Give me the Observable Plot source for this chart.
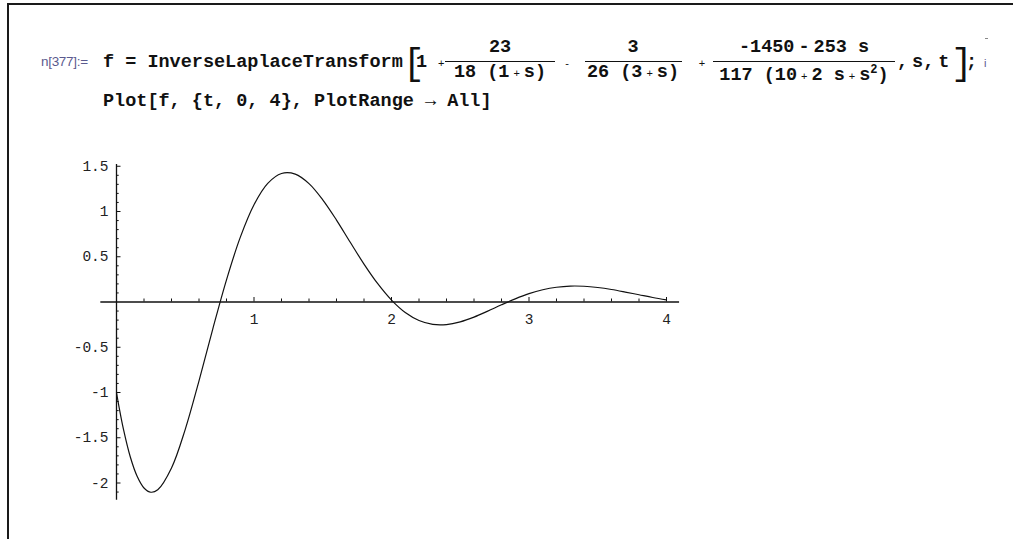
<!DOCTYPE html>
<html>
<head>
<meta charset="utf-8">
<script src="https://cdn.jsdelivr.net/npm/d3@7"></script>
<script src="https://cdn.jsdelivr.net/npm/@observablehq/plot@0.6"></script>
<style>
html, body { margin: 0; padding: 0; background: #fff; }
#page { position: relative; width: 1013px; height: 539px; overflow: hidden; background: #fff; }
#frame { position: absolute; left: 7px; top: 3px; width: 1100px; height: 600px; border-top: 2px solid #1a1a1a; border-left: 2px solid #1a1a1a; }
.t { position: absolute; white-space: pre; line-height: 1; color: #111; }
.mono { font-family: "Liberation Mono", "Courier New", monospace; font-weight: bold; font-size: 18.5px; }
.op { font-family: "Liberation Sans", Arial, sans-serif; font-weight: normal; font-size: 11px; }
.sp { display: inline-block; width: 4px; }
.lbl { font-family: "Liberation Sans", Arial, sans-serif; font-size: 13.5px; color: #5a5a8e; letter-spacing: -0.3px; }
.lbl2 { font-family: "Liberation Sans", Arial, sans-serif; font-size: 11px; color: #5a5a8e; }
.br { font-family: "Liberation Mono", "Courier New", monospace; font-weight: normal; font-size: 36px; letter-spacing: -12px; }
.bar { position: absolute; height: 0; border-top: 1.3px solid #111; }
#chart { position: absolute; left: 0; top: 140px; }
</style>
</head>
<body>
<div id="page">
  <div id="frame"></div>
  <div id="chart"></div>
</div>
<script>
// ---- data ----
const tValues = [0, 0.02, 0.05, 0.1, 0.15, 0.2, 0.25, 0.3, 0.4, 0.5, 0.6, 0.7, 0.8, 0.9, 1.0,
  1.1, 1.2, 1.3, 1.4, 1.5, 1.6, 1.7, 1.8, 1.9, 2.0, 2.1, 2.2, 2.3, 2.4, 2.5, 2.6, 2.7, 2.8, 2.9,
  3.0, 3.1, 3.2, 3.3, 3.4, 3.5, 3.6, 3.7, 3.8, 3.9, 4.0];
const fValues = [-1.000, -1.172, -1.402, -1.710, -1.926, -2.055, -2.102, -2.075, -1.834, -1.407,
  -0.871, -0.299, 0.245, 0.714, 1.075, 1.311, 1.420, 1.413, 1.308, 1.129, 0.905, 0.660, 0.419,
  0.202, 0.021, -0.116, -0.204, -0.247, -0.249, -0.219, -0.167, -0.101, -0.031, 0.035, 0.092,
  0.135, 0.163, 0.176, 0.174, 0.160, 0.138, 0.110, 0.080, 0.050, 0.024];
const xTickValues = [1, 2, 3, 4];
const xTickLabels = ["1", "2", "3", "4"];
const yTickValues = [-2, -1.5, -1, -0.5, 0.5, 1, 1.5];
const yTickLabels = ["-2", "-1.5", "-1", "-0.5", "0.5", "1", "1.5"];
const xAxisExtent = [-0.114, 4.095];
const yAxisExtent = [-2.19, 1.52];
const inLabel = "n[377]:=";
const codeLine2 = "Plot[f, {t, 0, 4}, PlotRange \u2192 All]";

// ---- header (Mathematica input cell) ----
const page = document.getElementById("page");
function put(html, x, base, cls, align) {
  const d = document.createElement("div");
  d.className = "t " + cls;
  d.innerHTML = html;
  page.appendChild(d);
  const fs = parseFloat(getComputedStyle(d).fontSize);
  const off = (cls.includes("lbl") || cls.includes("op")) ? 0.85 : 0.767;
  d.style.top = (base - off * fs) + "px";
  d.style.left = x + "px";
  if (align === "center") d.style.transform = "translateX(-50%)";
  return d;
}
function bar(x1, x2, y) {
  const d = document.createElement("div");
  d.className = "bar";
  d.style.left = x1 + "px"; d.style.width = (x2 - x1) + "px"; d.style.top = y + "px";
  page.appendChild(d);
}
const plus = '<span class="sp"></span><span class="op">+</span><span class="sp"></span>';
const minus = '<span class="sp"></span>-<span class="sp"></span>';

put(inLabel, 41, 66, "lbl");
put("f = InverseLaplaceTransform", 103, 68, "mono");
put("[", 403, 75, "br");
put("1", 416, 68, "mono");
put("+", 438, 67, "op");
// fraction 1
put("23", 500, 53, "mono", "center");
bar(445, 555, 61);
put("18 (1" + plus + "s)", 500, 78, "mono", "center");
put("-", 567, 67, "op", "center");
// fraction 2
put("3", 633, 53, "mono", "center");
bar(585, 682, 61);
put("26 (3" + plus + "s)", 633, 78, "mono", "center");
put("+", 702, 67, "op", "center");
// fraction 3
put("-1450" + minus + "253 s", 804, 53, "mono", "center");
bar(713, 895, 61);
put("117 (10" + plus + "2 s" + plus + "s<sup style='font-size:12px;vertical-align:7px'>2</sup>)", 804, 78, "mono", "center");
put(",<span class='sp'></span>s,<span class='sp'></span>t", 897, 68, "mono");
put("]", 951, 75, "br");
put(";", 966, 68, "mono");
put("i", 984, 67, "lbl2");
const dash = document.createElement("div");
dash.style.cssText = "position:absolute;left:985px;top:38px;width:3px;height:1px;background:#888;";
page.appendChild(dash);
put(codeLine2, 103, 107, "mono");

// ---- chart ----
const rows = tValues.map((t, i) => ({t, f: fValues[i]}));
const xMinor = d3.range(1, 20).map(i => i / 5).filter(v => !xTickValues.includes(v));
const yMinor = d3.range(-21, 15).map(i => i / 10).filter(v => Math.abs(v) > 1e-9 && !yTickValues.some(y => Math.abs(y - v) < 1e-9));
const tickFont = "'Liberation Mono', 'Courier New', monospace";

const chart = Plot.plot({
  width: 720,
  height: 380,
  style: {background: "transparent", overflow: "visible"},
  x: {domain: [0, 4], range: [116, 666], axis: null},
  y: {domain: [-2, 1.5], range: [342.5, 25.75], axis: null},
  marks: [
    // axis lines
    Plot.ruleY([0], {x1: xAxisExtent[0], x2: xAxisExtent[1], stroke: "#111", strokeWidth: 1.3}),
    Plot.ruleX([0], {y1: yAxisExtent[0], y2: yAxisExtent[1], stroke: "#111", strokeWidth: 1.3}),
    // y ticks (pointing right)
    Plot.ruleY(yTickValues, {y: d => d, x1: 0, x2: 0, insetRight: -4.5, stroke: "#111", strokeWidth: 1}),
    Plot.ruleY(yMinor, {y: d => d, x1: 0, x2: 0, insetRight: -2.7, stroke: "#111", strokeWidth: 1}),
    // x ticks (pointing up)
    Plot.ruleX(xTickValues, {x: d => d, y1: 0, y2: 0, insetBottom: 4.5, stroke: "#111", strokeWidth: 1}),
    Plot.ruleX(xMinor, {x: d => d, y1: 0, y2: 0, insetBottom: 3, stroke: "#111", strokeWidth: 1}),
    // tick labels
    Plot.text(yTickValues, {x: 0, y: d => d, text: (d, i) => yTickLabels[i], dx: -8, textAnchor: "end",
      fontFamily: tickFont, fontSize: 14.5, fill: "#222"}),
    Plot.text(xTickValues, {x: d => d, y: 0, text: (d, i) => xTickLabels[i], dy: 17.5, textAnchor: "middle",
      fontFamily: tickFont, fontSize: 14.5, fill: "#222"}),
    // the curve
    Plot.line(rows, {x: "t", y: "f", curve: "catmull-rom", stroke: "#111", strokeWidth: 1.2})
  ]
});
document.getElementById("chart").appendChild(chart);
</script>
</body>
</html>
